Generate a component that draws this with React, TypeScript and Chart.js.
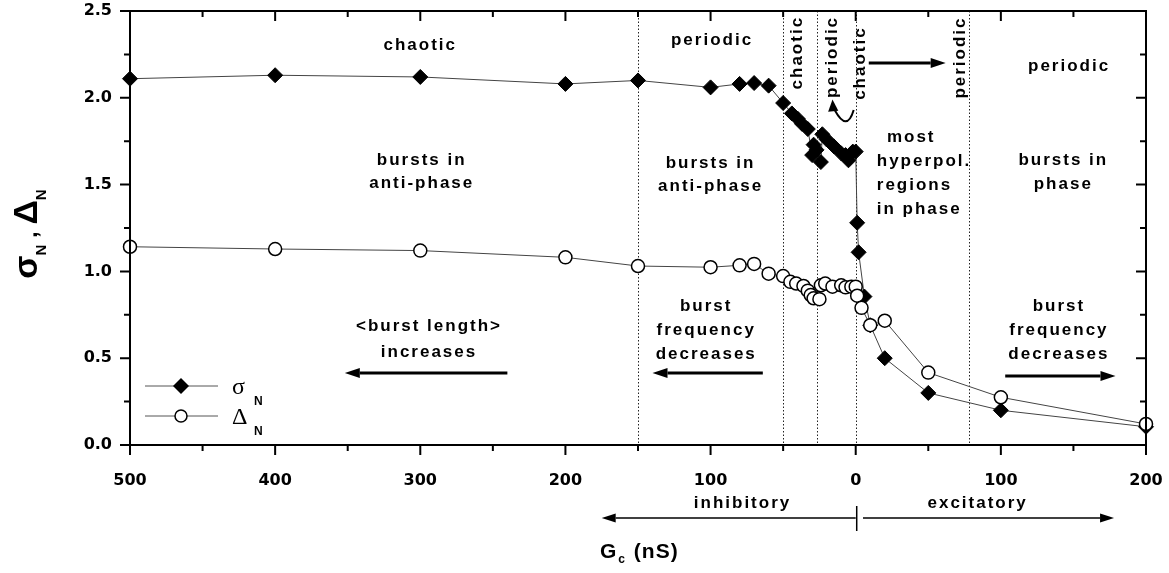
import React, { useEffect, useRef } from "react";
import { Chart, registerables } from "chart.js";

Chart.register(...registerables);

// ---- data (Gc in nS: negative = inhibitory, positive = excitatory) ----
const sigmaX = [-500, -400, -300, -200, -150, -100, -80, -70, -60, -50, -44, -40, -37, -33, -30, -29, -27, -24, -23, -20, -15, -10, -7, -5, -2, 0, 1, 2, 6, 10, 20, 50, 100, 200];
const sigmaY = [2.11, 2.13, 2.12, 2.08, 2.10, 2.06, 2.08, 2.085, 2.07, 1.97, 1.91, 1.88, 1.85, 1.82, 1.67, 1.73, 1.70, 1.63, 1.79, 1.76, 1.72, 1.68, 1.67, 1.64, 1.69, 1.69, 1.28, 1.11, 0.855, 0.69, 0.50, 0.30, 0.20, 0.105];

const deltaX = [-500, -400, -300, -200, -150, -100, -80, -70, -60, -50, -45, -41, -36, -33, -31, -29, -25, -24, -21, -16, -10, -7, -3, 0, 1, 4, 10, 20, 50, 100, 200];
const deltaY = [1.142, 1.129, 1.12, 1.081, 1.031, 1.024, 1.035, 1.043, 0.987, 0.973, 0.94, 0.93, 0.916, 0.889, 0.864, 0.845, 0.84, 0.92, 0.93, 0.912, 0.92, 0.908, 0.912, 0.912, 0.86, 0.79, 0.69, 0.716, 0.417, 0.275, 0.121];

const xTickValues = [-500, -400, -300, -200, -100, 0, 100, 200];
const yTickValues = [0, 0.5, 1, 1.5, 2, 2.5];
const boundaryX = [-150, -50, -27, 0, 78];

// ---- annotations (data coordinates) ----
const regionTexts = [
  { t: "chaotic", x: -300, y: 2.30 },
  { t: "periodic", x: -99, y: 2.33 },
  { t: "bursts in", x: -299, y: 1.64 },
  { t: "anti-phase", x: -299, y: 1.51 },
  { t: "bursts in", x: -100, y: 1.62 },
  { t: "anti-phase", x: -100, y: 1.49 },
  { t: "<burst length>", x: -294, y: 0.685 },
  { t: "increases", x: -294, y: 0.536 },
  { t: "burst", x: -103, y: 0.80 },
  { t: "frequency", x: -103, y: 0.662 },
  { t: "decreases", x: -103, y: 0.524 },
  { t: "periodic", x: 147, y: 2.18 },
  { t: "bursts in", x: 143, y: 1.64 },
  { t: "phase", x: 143, y: 1.50 },
  { t: "burst", x: 140, y: 0.80 },
  { t: "frequency", x: 140, y: 0.662 },
  { t: "decreases", x: 140, y: 0.524 },
];
const leftTexts = [
  { t: "most", x: 21.5, y: 1.774 },
  { t: "hyperpol.", x: 14.5, y: 1.636 },
  { t: "regions", x: 14.5, y: 1.498 },
  { t: "in phase", x: 14.5, y: 1.36 },
];
const verticalTexts = [
  { t: "chaotic", x: -40, y: 2.26 },
  { t: "periodic", x: -16, y: 2.235 },
  { t: "chaotic", x: 3.4, y: 2.20 },
  { t: "periodic", x: 72.4, y: 2.232 },
];
const plotArrows = [
  { x1: -240, x2: -352, y: 0.415 },
  { x1: -64, x2: -140, y: 0.415 },
  { x1: 103, x2: 179, y: 0.397 },
  { x1: 9, x2: 62, y: 2.20 },
];

const SANS = '"Liberation Sans", Arial, sans-serif';

function arrow(ctx: CanvasRenderingContext2D, x1: number, y1: number, x2: number, y2: number, lw: number, hl: number, hw: number) {
  const ang = Math.atan2(y2 - y1, x2 - x1);
  const bx = x2 - Math.cos(ang) * hl;
  const by = y2 - Math.sin(ang) * hl;
  ctx.lineWidth = lw;
  ctx.beginPath();
  ctx.moveTo(x1, y1);
  ctx.lineTo(bx, by);
  ctx.stroke();
  ctx.beginPath();
  ctx.moveTo(x2, y2);
  ctx.lineTo(bx + Math.sin(ang) * hw, by - Math.cos(ang) * hw);
  ctx.lineTo(bx - Math.sin(ang) * hw, by + Math.cos(ang) * hw);
  ctx.closePath();
  ctx.fill();
}

const decor = {
  id: "decor",
  beforeDatasetsDraw(chart: any) {
    const { ctx, chartArea: a } = chart;
    const xs = chart.scales.x;
    ctx.save();
    ctx.strokeStyle = "#222";
    ctx.lineWidth = 1;
    ctx.setLineDash([1.5, 2]);
    boundaryX.forEach((v) => {
      const px = Math.round(xs.getPixelForValue(v)) + 0.5;
      ctx.beginPath();
      ctx.moveTo(px, a.top);
      ctx.lineTo(px, a.bottom);
      ctx.stroke();
    });
    ctx.restore();
  },
  afterDraw(chart: any) {
    const { ctx, chartArea: a } = chart;
    const xs = chart.scales.x;
    const ys = chart.scales.y;
    const X = (v: number) => xs.getPixelForValue(v);
    const Y = (v: number) => ys.getPixelForValue(v);
    ctx.save();
    ctx.setLineDash([]);
    ctx.strokeStyle = "#000";
    ctx.fillStyle = "#000";

    // frame
    ctx.lineWidth = 2;
    ctx.strokeRect(a.left, a.top, a.right - a.left, a.bottom - a.top);

    // ticks (major + minor)
    ctx.lineWidth = 2;
    for (let v = -500; v <= 200; v += 50) {
      const px = X(v);
      const len = v % 100 === 0 ? 10 : 6;
      ctx.beginPath();
      ctx.moveTo(px, a.bottom);
      ctx.lineTo(px, a.bottom + len);
      ctx.moveTo(px, a.top);
      ctx.lineTo(px, a.top + len);
      ctx.stroke();
    }
    for (let i = 0; i <= 10; i++) {
      const v = i * 0.25;
      const py = Y(v);
      const len = i % 2 === 0 ? 10 : 6;
      ctx.beginPath();
      ctx.moveTo(a.left - len, py);
      ctx.lineTo(a.left, py);
      ctx.moveTo(a.right - len, py);
      ctx.lineTo(a.right, py);
      ctx.stroke();
    }

    // region texts
    ctx.textBaseline = "middle";
    ctx.font = `bold 17px ${SANS}`;
    (ctx as any).letterSpacing = "2px";
    ctx.textAlign = "center";
    regionTexts.forEach((r) => ctx.fillText(r.t, X(r.x), Y(r.y)));
    ctx.textAlign = "left";
    leftTexts.forEach((r) => ctx.fillText(r.t, X(r.x), Y(r.y)));
    ctx.textAlign = "center";
    verticalTexts.forEach((r) => {
      ctx.save();
      ctx.translate(X(r.x), Y(r.y));
      ctx.rotate(-Math.PI / 2);
      ctx.fillText(r.t, 0, 0);
      ctx.restore();
    });

    // arrows in the plot
    plotArrows.forEach((ar) => arrow(ctx, X(ar.x1), Y(ar.y), X(ar.x2), Y(ar.y), 3, 15, 5));

    // curved arrow (chaotic -> periodic)
    ctx.lineWidth = 2;
    ctx.beginPath();
    ctx.moveTo(X(-1.4), Y(1.93));
    ctx.quadraticCurveTo(X(-6), Y(1.8), X(-14.5), Y(1.93));
    ctx.stroke();
    ctx.beginPath();
    ctx.moveTo(X(-16), Y(1.99));
    ctx.lineTo(X(-19), Y(1.92));
    ctx.lineTo(X(-12), Y(1.925));
    ctx.closePath();
    ctx.fill();

    // legend
    const lx = a.left;
    const rows = [
      { y: a.bottom - 59, sym: "σ", kind: "diamond" },
      { y: a.bottom - 29, sym: "Δ", kind: "circle" },
    ];
    rows.forEach((r) => {
      ctx.strokeStyle = "#555";
      ctx.lineWidth = 1;
      ctx.beginPath();
      ctx.moveTo(lx + 15, r.y);
      ctx.lineTo(lx + 88, r.y);
      ctx.stroke();
      ctx.strokeStyle = "#000";
      const cx = lx + 51;
      if (r.kind === "diamond") {
        ctx.beginPath();
        ctx.moveTo(cx - 8, r.y);
        ctx.lineTo(cx, r.y - 8);
        ctx.lineTo(cx + 8, r.y);
        ctx.lineTo(cx, r.y + 8);
        ctx.closePath();
        ctx.fill();
      } else {
        ctx.beginPath();
        ctx.arc(cx, r.y, 6, 0, Math.PI * 2);
        ctx.fillStyle = "#fff";
        ctx.fill();
        ctx.lineWidth = 1.5;
        ctx.stroke();
        ctx.fillStyle = "#000";
      }
      (ctx as any).letterSpacing = "0px";
      ctx.textAlign = "left";
      ctx.textBaseline = "alphabetic";
      ctx.font = `24px "Liberation Serif", serif`;
      ctx.fillText(r.sym, lx + 102, r.y + 8);
      ctx.font = `bold 12px ${SANS}`;
      ctx.fillText("N", lx + 124, r.y + 19);
    });

    // below-axis annotations
    (ctx as any).letterSpacing = "2px";
    ctx.font = `bold 17px ${SANS}`;
    ctx.textAlign = "center";
    ctx.textBaseline = "middle";
    ctx.fillText("inhibitory", X(-78), a.bottom + 58);
    ctx.fillText("excitatory", X(84), a.bottom + 58);
    ctx.strokeStyle = "#000";
    arrow(ctx, X(0), a.bottom + 73, X(-175), a.bottom + 73, 1.5, 14, 4.5);
    arrow(ctx, X(5), a.bottom + 73, X(178), a.bottom + 73, 1.5, 14, 4.5);
    ctx.lineWidth = 1.5;
    ctx.beginPath();
    ctx.moveTo(X(0) + 1, a.bottom + 61);
    ctx.lineTo(X(0) + 1, a.bottom + 86);
    ctx.stroke();

    // x title: G_c (nS)
    (ctx as any).letterSpacing = "1px";
    ctx.textAlign = "left";
    ctx.textBaseline = "alphabetic";
    const tx = 600;
    const ty = a.bottom + 113;
    ctx.font = `bold 21px ${SANS}`;
    ctx.fillText("G", tx, ty);
    const w = ctx.measureText("G").width;
    ctx.font = `bold 12px ${SANS}`;
    ctx.fillText("c", tx + w + 1, ty + 5);
    const w2 = ctx.measureText("c").width;
    ctx.font = `bold 21px ${SANS}`;
    ctx.fillText(" (nS)", tx + w + w2 + 2, ty);

    // y title: sigma_N , Delta_N (rotated)
    ctx.save();
    ctx.translate(37, 234);
    ctx.rotate(-Math.PI / 2);
    (ctx as any).letterSpacing = "0px";
    const big = `bold 34px ${SANS}`;
    const sub = `bold 15px ${SANS}`;
    const parts = [
      { s: "σ", f: big, dy: 0 },
      { s: "N", f: sub, dy: 9 },
      { s: " , ", f: `bold 24px ${SANS}`, dy: 0 },
      { s: "Δ", f: big, dy: 0 },
      { s: "N", f: sub, dy: 9 },
    ];
    let total = 0;
    parts.forEach((p) => {
      ctx.font = p.f;
      total += ctx.measureText(p.s).width;
    });
    let cx = -total / 2;
    parts.forEach((p) => {
      ctx.font = p.f;
      ctx.fillText(p.s, cx, p.dy);
      cx += ctx.measureText(p.s).width;
    });
    ctx.restore();

    ctx.restore();
  },
};

export default function App() {
  const ref = useRef<HTMLCanvasElement>(null);
  useEffect(() => {
    const canvas = ref.current;
    if (!canvas) return;
    const chart = new Chart(canvas, {
      type: "scatter",
      data: {
        datasets: [
          {
            label: "ΔN",
            data: deltaX.map((x, i) => ({ x, y: deltaY[i] })),
            showLine: true,
            borderColor: "#444",
            borderWidth: 1,
            pointStyle: "circle",
            pointRadius: 6.5,
            pointBackgroundColor: "#fff",
            pointBorderColor: "#000",
            pointBorderWidth: 1.5,
            clip: false,
          } as any,
          {
            label: "σN",
            data: sigmaX.map((x, i) => ({ x, y: sigmaY[i] })),
            showLine: true,
            borderColor: "#444",
            borderWidth: 1,
            pointStyle: "rectRot",
            pointRadius: 7.5,
            pointBackgroundColor: "#000",
            pointBorderColor: "#000",
            pointBorderWidth: 1,
            clip: false,
          } as any,
        ],
      },
      options: {
        responsive: false,
        animation: false,
        layout: { padding: { left: 0, right: 23, top: 11, bottom: 0 } },
        plugins: { legend: { display: false }, tooltip: { enabled: false } },
        scales: {
          x: {
            type: "linear",
            min: -500,
            max: 200,
            afterBuildTicks: (s: any) => {
              s.ticks = xTickValues.map((v) => ({ value: v }));
            },
            afterFit: (s: any) => {
              s.height = 128;
              s.paddingLeft = 0;
              s.paddingRight = 0;
              s.paddingTop = 0;
              s.paddingBottom = 0;
            },
            grid: { display: false, drawTicks: false },
            border: { display: false },
            ticks: {
              autoSkip: false,
              maxRotation: 0,
              padding: 26,
              color: "#000",
              font: { family: '"DejaVu Sans"', weight: "bold", size: 16 },
              callback: (v: any) => String(Math.abs(Number(v))),
            },
          },
          y: {
            type: "linear",
            min: 0,
            max: 2.5,
            afterBuildTicks: (s: any) => {
              s.ticks = yTickValues.map((v) => ({ value: v }));
            },
            afterFit: (s: any) => {
              s.width = 130;
              s.paddingLeft = 0;
              s.paddingRight = 0;
              s.paddingTop = 0;
              s.paddingBottom = 0;
            },
            grid: { display: false, drawTicks: false },
            border: { display: false },
            ticks: {
              padding: 18,
              color: "#000",
              font: { family: '"DejaVu Sans"', weight: "bold", size: 16 },
              callback: (v: any) => Number(v).toFixed(1),
            },
          },
        },
      } as any,
      plugins: [decor],
    });
    return () => chart.destroy();
  }, []);
  return (
    <div style={{ position: "fixed", left: 0, top: 0, width: 1169, height: 573, background: "#fff" }}>
      <canvas ref={ref} width={1169} height={573} style={{ display: "block", width: 1169, height: 573 }} />
    </div>
  );
}
